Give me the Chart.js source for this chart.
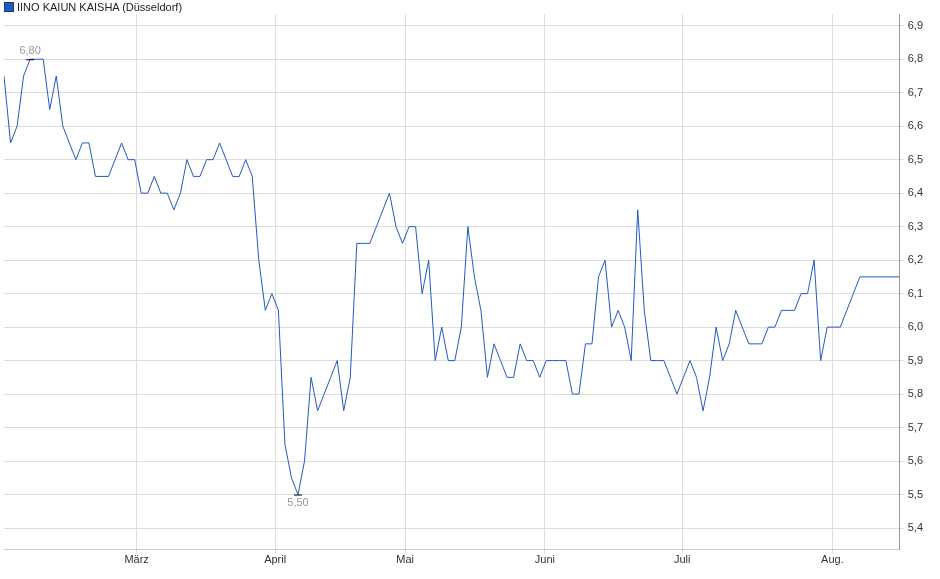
<!DOCTYPE html>
<html>
<head>
<meta charset="utf-8">
<script src="https://cdn.jsdelivr.net/npm/chart.js@4"></script>
<style>
  body { margin: 0; background: #fff; font-family: "Liberation Sans", Arial, sans-serif; }
  #wrap { position: relative; width: 940px; height: 579px; }
  #legend { position: absolute; left: 4px; top: 1px; font-size: 11px; color: #222; }
  #legend span { display: inline-block; width: 8px; height: 8px; background: #1f5bc4; border: 1px solid #103a80; margin-right: 3px; vertical-align: -1px; }
</style>
</head>
<body>
<div id="wrap">
  <div id="legend"><span></span>IINO KAIUN KAISHA (Düsseldorf)</div>
  <canvas id="chart" width="940" height="579"></canvas>
</div>
<script>
const prices = [
  6.75, 6.55, 6.6, 6.75, 6.8, 6.8, 6.8, 6.65, 6.75, 6.6, 6.55, 6.5, 6.55, 6.55, 6.45, 6.45, 6.45, 6.5, 6.55, 6.5,
  6.5, 6.4, 6.4, 6.45, 6.4, 6.4, 6.35, 6.4, 6.5, 6.45, 6.45, 6.5, 6.5, 6.55, 6.5, 6.45, 6.45, 6.5, 6.45, 6.2,
  6.05, 6.1, 6.05, 5.65, 5.55, 5.5, 5.6, 5.85, 5.75, 5.8, 5.85, 5.9, 5.75, 5.85, 6.25, 6.25, 6.25, 6.3, 6.35, 6.4,
  6.3, 6.25, 6.3, 6.3, 6.1, 6.2, 5.9, 6.0, 5.9, 5.9, 6.0, 6.3, 6.15, 6.05, 5.85, 5.95, 5.9, 5.85, 5.85, 5.95,
  5.9, 5.9, 5.85, 5.9, 5.9, 5.9, 5.9, 5.8, 5.8, 5.95, 5.95, 6.15, 6.2, 6.0, 6.05, 6.0, 5.9, 6.35, 6.05, 5.9,
  5.9, 5.9, 5.85, 5.8, 5.85, 5.9, 5.85, 5.75, 5.85, 6.0, 5.9, 5.95, 6.05, 6.0, 5.95, 5.95, 5.95, 6.0, 6.0, 6.05,
  6.05, 6.05, 6.1, 6.1, 6.2, 5.9, 6.0, 6.0, 6.0, 6.05, 6.1, 6.15, 6.15, 6.15, 6.15, 6.15, 6.15, 6.15
];
const monthLabels = ["März", "April", "Mai", "Juni", "Juli", "Aug."];
const monthPos = [20.3, 41.5, 61.4, 82.8, 103.8, 126.8];
const yTicks = [5.4, 5.5, 5.6, 5.7, 5.8, 5.9, 6.0, 6.1, 6.2, 6.3, 6.4, 6.5, 6.6, 6.7, 6.8, 6.9];

const points = prices.map((v, i) => ({ x: i, y: v }));
const maxIdx = prices.indexOf(Math.max(...prices));
const minIdx = prices.indexOf(Math.min(...prices));

const extremes = {
  id: "extremes",
  afterDatasetsDraw(chart) {
    const { ctx, scales } = chart;
    ctx.save();
    ctx.font = "11px 'Liberation Sans', Arial, sans-serif";
    ctx.fillStyle = "#999";
    ctx.strokeStyle = "#000";
    ctx.textAlign = "center";
    [[maxIdx, -1], [minIdx, 1]].forEach(([i, dir]) => {
      const x = scales.x.getPixelForValue(i);
      const y = scales.y.getPixelForValue(prices[i]);
      ctx.beginPath();
      ctx.moveTo(x - 4, y + 0.5); ctx.lineTo(x + 4, y + 0.5); ctx.stroke();
      ctx.textBaseline = dir < 0 ? "bottom" : "top";
      ctx.fillText(prices[i].toFixed(2).replace(".", ","), x, y + dir * 3);
    });
    ctx.restore();
  }
};

new Chart(document.getElementById("chart"), {
  type: "line",
  data: {
    datasets: [{
      data: points,
      borderColor: "#1f5bc4",
      borderWidth: 1,
      pointRadius: 0,
      tension: 0
    }]
  },
  options: {
    responsive: false,
    animation: false,
    layout: { padding: { left: 4, top: 14, right: 13, bottom: 12 } },
    plugins: { legend: { display: false }, tooltip: { enabled: false } },
    scales: {
      x: {
        type: "linear",
        min: 0,
        max: prices.length - 0.9,
        afterBuildTicks: axis => { axis.ticks = monthPos.map(v => ({ value: v })); },
        ticks: {
          autoSkip: false, maxRotation: 0, color: "#333", padding: 0,
          font: { size: 11, family: "'Liberation Sans', Arial, sans-serif" },
          callback: (v, i) => monthLabels[i]
        },
        grid: { color: "#dddddd", drawTicks: true, tickLength: 4 },
        border: { color: "#cccccc" }
      },
      y: {
        position: "right",
        min: 5.335,
        max: 6.935,
        afterBuildTicks: axis => { axis.ticks = yTicks.map(v => ({ value: v })); },
        ticks: {
          color: "#333", padding: 4,
          font: { size: 11, family: "'Liberation Sans', Arial, sans-serif" },
          callback: v => v.toFixed(1).replace(".", ",")
        },
        grid: { color: "#dddddd", tickLength: 4 },
        border: { color: "#999999" }
      }
    }
  },
  plugins: [extremes]
});
</script>
</body>
</html>
